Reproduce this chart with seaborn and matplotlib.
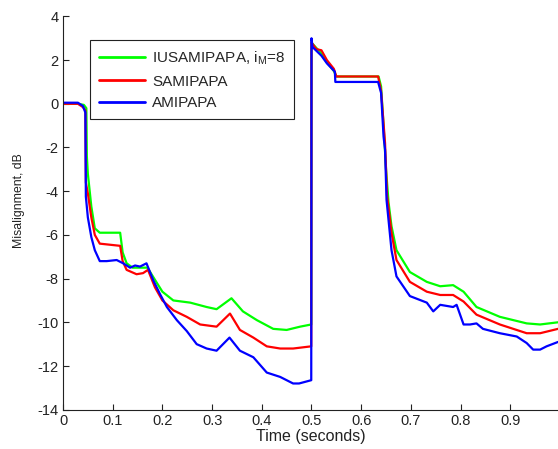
import numpy as np
import pandas as pd
import matplotlib
matplotlib.use("Agg")
import matplotlib.pyplot as plt
import seaborn as sns

# IUSAMIPAPA (i_M = 8)
t_ius = [0, 0.03, 0.042, 0.047, 0.048, 0.05, 0.057, 0.064, 0.074, 0.115, 0.12, 0.128,
         0.14, 0.17, 0.189, 0.2, 0.222, 0.256, 0.289, 0.309, 0.339, 0.362, 0.39, 0.423,
         0.45, 0.477, 0.4995,
         0.5, 0.52, 0.531, 0.545, 0.55, 0.635, 0.64, 0.645, 0.65, 0.655, 0.661, 0.671,
         0.698, 0.732, 0.759, 0.785, 0.806, 0.832, 0.879, 0.933, 0.96, 0.996]
y_ius = [0, 0, -0.05, -0.2, -2.4, -3.2, -4.7, -5.7, -5.9, -5.9, -6.8, -7.3,
         -7.5, -7.5, -8.2, -8.6, -9.0, -9.1, -9.3, -9.4, -8.9, -9.5, -9.9, -10.3,
         -10.35, -10.2, -10.1,
         2.8, 2.3, 1.9, 1.5, 1.25, 1.25, 0.8, -1.0, -3.0, -4.5, -5.6, -6.7,
         -7.7, -8.15, -8.35, -8.3, -8.6, -9.3, -9.75, -10.05, -10.1, -10.0]

# SAMIPAPA
t_sam = [0, 0.03, 0.04, 0.045, 0.046, 0.05, 0.057, 0.064, 0.074, 0.115, 0.12, 0.128,
         0.148, 0.161, 0.171, 0.185, 0.2, 0.222, 0.249, 0.276, 0.309, 0.336, 0.356,
         0.383, 0.41, 0.437, 0.463, 0.4995,
         0.5, 0.51, 0.52, 0.531, 0.545, 0.55, 0.634, 0.64, 0.648, 0.652, 0.661, 0.671,
         0.698, 0.732, 0.759, 0.785, 0.806, 0.832, 0.879, 0.933, 0.96, 0.996]
y_sam = [0, 0, -0.15, -0.3, -3.6, -4.1, -5.2, -6.0, -6.4, -6.5, -7.2, -7.6,
         -7.8, -7.75, -7.6, -8.4, -9.0, -9.45, -9.75, -10.1, -10.2, -9.6, -10.35,
         -10.7, -11.1, -11.2, -11.2, -11.1,
         2.8, 2.5, 2.45, 2.0, 1.6, 1.25, 1.25, 0.6, -1.8, -4.2, -5.9, -7.15,
         -8.15, -8.6, -8.75, -8.75, -9.05, -9.65, -10.1, -10.5, -10.5, -10.3]

# AMIPAPA
t_ami = [0, 0.03, 0.04, 0.045, 0.046, 0.05, 0.057, 0.064, 0.074, 0.088, 0.108, 0.121,
         0.135, 0.145, 0.155, 0.168, 0.182, 0.195, 0.209, 0.229, 0.249, 0.269, 0.289,
         0.309, 0.335, 0.356, 0.383, 0.41, 0.437, 0.463, 0.475, 0.4995,
         0.5, 0.502, 0.52, 0.531, 0.547, 0.548, 0.634, 0.64, 0.645, 0.648, 0.651,
         0.661, 0.671, 0.698, 0.732, 0.745, 0.759, 0.785, 0.792, 0.806, 0.819, 0.832,
         0.845, 0.879, 0.913, 0.933, 0.946, 0.96, 0.973, 0.996]
y_ami = [0.05, 0.05, -0.1, -0.4, -4.25, -5.2, -6.1, -6.7, -7.2, -7.2, -7.15, -7.3,
         -7.5, -7.4, -7.45, -7.3, -8.1, -8.7, -9.3, -9.9, -10.4, -11.0, -11.2,
         -11.3, -10.7, -11.3, -11.6, -12.3, -12.5, -12.8, -12.8, -12.65,
         3.0, 2.6, 2.2, 1.85, 1.47, 1.0, 1.0, 0.5, -1.5, -2.1, -4.4,
         -6.7, -7.9, -8.8, -9.1, -9.5, -9.2, -9.3, -9.2, -10.1, -10.1, -10.05,
         -10.3, -10.5, -10.65, -10.95, -11.25, -11.25, -11.1, -10.9]

series_names = ["IUSAMIPAPA, i$_\\mathrm{M}$=8", "SAMIPAPA", "AMIPAPA"]
series_colors = ["#00ff00", "#ff0000", "#0000ff"]

x_ticks = [0, 0.1, 0.2, 0.3, 0.4, 0.5, 0.6, 0.7, 0.8, 0.9]
y_ticks = [-14, -12, -10, -8, -6, -4, -2, 0, 2, 4]

frames = []
for name, t, y in zip(series_names, [t_ius, t_sam, t_ami], [y_ius, y_sam, y_ami]):
    frames.append(pd.DataFrame({"time": t, "mis": y, "alg": name}))
df = pd.concat(frames, ignore_index=True)

sns.set_style("ticks")
plt.rcParams["font.family"] = ["Liberation Sans", "DejaVu Sans"]
plt.rcParams["mathtext.fontset"] = "custom"
plt.rcParams["mathtext.rm"] = "Liberation Sans"
plt.rcParams["axes.unicode_minus"] = False

fig = plt.figure(figsize=(5.58, 4.49), dpi=100)
ax = fig.add_axes([63 / 558, 1 - 409.7 / 449, 1 - 63 / 558, (409.7 - 16.4) / 449])

sns.lineplot(data=df, x="time", y="mis", hue="alg", hue_order=series_names,
             palette=series_colors, estimator=None, sort=False, linewidth=1.6,
             ax=ax)

ax.set_xlim(0, 0.996)
ax.set_ylim(-14, 4)
ax.set_xticks(x_ticks)
ax.set_xticklabels([f"{v:g}" for v in x_ticks])
ax.set_yticks(y_ticks)
ax.set_yticklabels([f"{v:g}" for v in y_ticks])
ax.tick_params(direction="in", length=4, width=0.8, labelsize=10.5, colors="#222222",
               pad=3)
for s in ["top", "right"]:
    ax.spines[s].set_visible(False)
for s in ["left", "bottom"]:
    ax.spines[s].set_color("#222222")
    ax.spines[s].set_linewidth(0.8)

ax.set_xlabel("Time (seconds)", fontsize=11.5, color="#222222", labelpad=1)
ax.set_ylabel("Misalignment, dB", fontsize=8.8, color="#222222")
ax.yaxis.set_label_coords(-0.077, 0.531)

leg = ax.legend(loc="upper left", bbox_to_anchor=(90 / 558, 1 - 40 / 449),
                bbox_transform=fig.transFigure, borderaxespad=0, fontsize=11,
                frameon=True, fancybox=False, framealpha=1, edgecolor="#222222",
                handlelength=3.0, handletextpad=0.45, labelspacing=0.5,
                borderpad=0.6, title=None)
leg.get_frame().set_linewidth(0.8)
for line in leg.get_lines():
    line.set_linewidth(2)

fig.savefig("out.png", dpi=100)
